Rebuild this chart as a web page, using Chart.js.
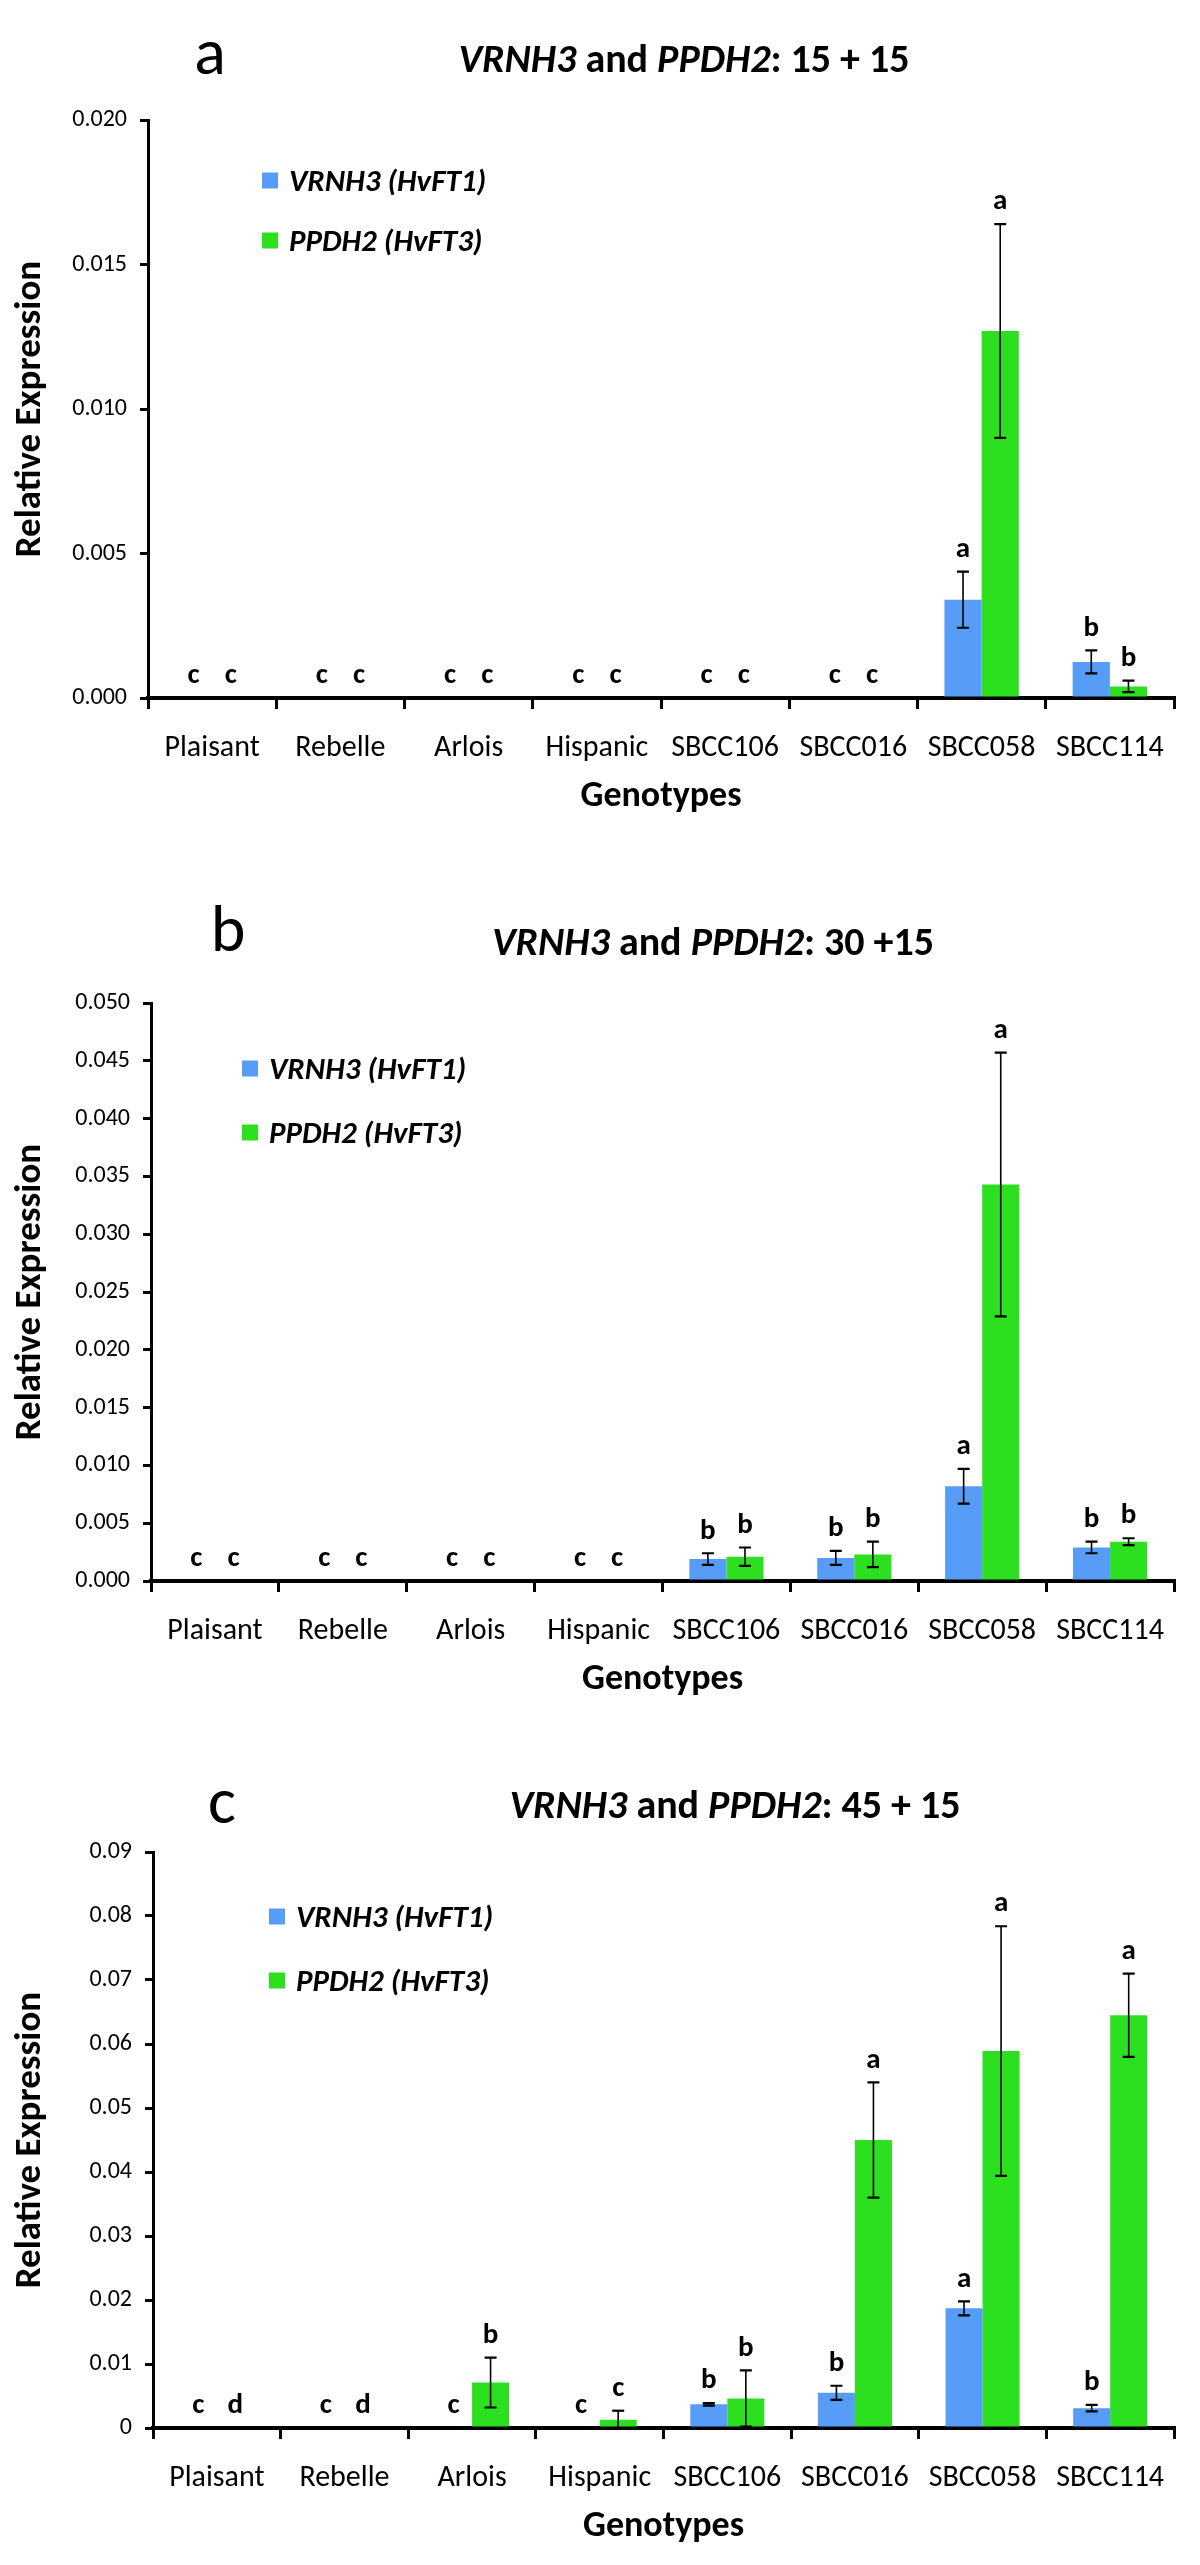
<!DOCTYPE html>
<html>
<head>
<meta charset="utf-8">
<title>VRNH3 and PPDH2 relative expression</title>
<script src="https://cdn.jsdelivr.net/npm/chart.js@4.4.1/dist/chart.umd.min.js"></script>
<style>
body { margin: 0; background: #fff; }
#page { position: relative; width: 1200px; height: 2565px; overflow: hidden; }
canvas { position: absolute; left: 0; }
.txt { position: absolute; white-space: nowrap; color: #000; transform: translate(-50%, -50%);
       font-family: Carlito, 'Liberation Sans Narrow', 'Open Sans', sans-serif; line-height: 1; }
.title { font-weight: bold; font-size: 40px; }
.letter { font-size: 66px; }
.leg { position: absolute; white-space: nowrap; transform: translateY(-50%); line-height: 1;
       font-family: Carlito, 'Liberation Sans Narrow', 'Open Sans', sans-serif;
       font-weight: bold; font-style: italic; font-size: 31px; }
.leg span.sw { display: inline-block; width: 16px; height: 16px; margin-right: 11px; vertical-align: middle; position: relative; top: -2px; }
</style>
</head>
<body>
<div id="page">
  <canvas id="chartA" width="1200" height="830" style="top:0px"></canvas>
  <canvas id="chartB" width="1200" height="883" style="top:830px"></canvas>
  <canvas id="chartC" width="1200" height="852" style="top:1713px"></canvas>

  <div class="txt letter" style="left:210px;top:52px">a</div>
  <div class="txt title" style="left:684px;top:59px"><i>VRNH3</i> and <i>PPDH2</i>: 15 + 15</div>

  <div class="txt letter" style="left:228px;top:929px">b</div>
  <div class="txt title" style="left:713px;top:942px"><i>VRNH3</i> and <i>PPDH2</i>: 30 +15</div>

  <div class="txt letter" style="left:222px;top:1801px">c</div>
  <div class="txt title" style="left:735px;top:1805px"><i>VRNH3</i> and <i>PPDH2</i>: 45 + 15</div>
</div>

<script>
"use strict"

const genotypes = ['Plaisant', 'Rebelle', 'Arlois', 'Hispanic', 'SBCC106', 'SBCC016', 'SBCC058', 'SBCC114'];
const seriesNames = ['VRNH3 (HvFT1)', 'PPDH2 (HvFT3)'];

/*** a: 15 + 15 ***/
const vrnh3A    = [0, 0, 0, 0, 0, 0, 0.0034, 0.00125];
const vrnh3ErrA = [0, 0, 0, 0, 0, 0, 0.00097, 0.0004];
const vrnh3LetA = ['c', 'c', 'c', 'c', 'c', 'c', 'a', 'b'];
const ppdh2A    = [0, 0, 0, 0, 0, 0, 0.0127, 0.0004];
const ppdh2ErrA = [0, 0, 0, 0, 0, 0, 0.0037, 0.0002];
const ppdh2LetA = ['c', 'c', 'c', 'c', 'c', 'c', 'a', 'b'];
const yValsA    = [0, 0.005, 0.01, 0.015, 0.02];
const yLabelsA  = ['0.000', '0.005', '0.010', '0.015', '0.020'];

/*** b: 30 + 15 ***/
const vrnh3B    = [0, 0, 0, 0, 0.0019, 0.0020, 0.0082, 0.0029];
const vrnh3ErrB = [0, 0, 0, 0, 0.0005, 0.0006, 0.0015, 0.0005];
const vrnh3LetB = ['c', 'c', 'c', 'c', 'b', 'b', 'a', 'b'];
const ppdh2B    = [0, 0, 0, 0, 0.0021, 0.0023, 0.0343, 0.0034];
const ppdh2ErrB = [0, 0, 0, 0, 0.0008, 0.0011, 0.0114, 0.0003];
const ppdh2LetB = ['c', 'c', 'c', 'c', 'b', 'b', 'a', 'b'];
const yValsB    = [0, 0.005, 0.01, 0.015, 0.02, 0.025, 0.03, 0.035, 0.04, 0.045, 0.05];
const yLabelsB  = ['0.000', '0.005', '0.010', '0.015', '0.020', '0.025', '0.030', '0.035', '0.040', '0.045', '0.050'];

/*** c: 45 + 15 ***/
const vrnh3C    = [0, 0, 0, 0, 0.0037, 0.0055, 0.0187, 0.0031];
const vrnh3ErrC = [0, 0, 0, 0, 0.0002, 0.0011, 0.0011, 0.0005];
const vrnh3LetC = ['c', 'c', 'c', 'c', 'b', 'b', 'a', 'b'];
const ppdh2C    = [0, 0, 0.0071, 0.0013, 0.0046, 0.045, 0.0589, 0.0645];
const ppdh2ErrC = [0, 0, 0.0039, 0.0014, 0.0044, 0.009, 0.0195, 0.0065];
const ppdh2LetC = ['d', 'd', 'b', 'c', 'b', 'a', 'a', 'a'];
const yValsC    = [0, 0.01, 0.02, 0.03, 0.04, 0.05, 0.06, 0.07, 0.08, 0.09];
const yLabelsC  = ['0', '0.01', '0.02', '0.03', '0.04', '0.05', '0.06', '0.07', '0.08', '0.09'];

const BLUE = '#579cf7';
const GREEN = '#2ce01f';
const NARROW = "Carlito, 'Liberation Sans Narrow', 'Open Sans', sans-serif";

// error bars + significance letters, placed with the y scale
let errorBars = {
    id: 'errorBars',
    afterDatasetsDraw: function (chart) {
        const ctx = chart.ctx;
        const y = chart.scales.y;
        ctx.save();
        chart.data.datasets.forEach(function (ds, i) {
            chart.getDatasetMeta(i).data.forEach(function (bar, j) {
                let v = ds.data[j];
                let e = ds.errors[j];
                let top = y.getPixelForValue(v + e);
                if (e > 0) {
                    let low = Math.max(v - e, 0);
                    let bot = y.getPixelForValue(low);
                    ctx.strokeStyle = '#000';
                    ctx.lineWidth = 1.6;
                    ctx.beginPath();
                    ctx.moveTo(bar.x, top);
                    ctx.lineTo(bar.x, bot);
                    ctx.stroke();
                    ctx.lineWidth = 2.2;
                    ctx.beginPath();
                    ctx.moveTo(bar.x - 6, top);
                    ctx.lineTo(bar.x + 6, top);
                    if (low > 0) {
                        ctx.moveTo(bar.x - 6, bot);
                        ctx.lineTo(bar.x + 6, bot);
                    }
                    ctx.stroke();
                }
                ctx.fillStyle = '#000';
                ctx.font = 'bold 29px ' + NARROW;
                ctx.textAlign = 'center';
                ctx.textBaseline = 'middle';
                ctx.fillText(ds.letters[j], bar.x, top - 22);
            });
        });
        ctx.restore();
    }
};

function makeChart(id, p) {
    const ctx = document.getElementById(id).getContext('2d');
    return new Chart(ctx, {
        type: 'bar',
        data: {
            labels: genotypes,
            datasets: [
                { label: seriesNames[0], data: p.v, errors: p.ve, letters: p.vl, backgroundColor: BLUE,
                  borderWidth: 0, categoryPercentage: 0.58, barPercentage: 1 },
                { label: seriesNames[1], data: p.g, errors: p.ge, letters: p.gl, backgroundColor: GREEN,
                  borderWidth: 0, categoryPercentage: 0.58, barPercentage: 1 }
            ]
        },
        options: {
            responsive: false,
            animation: false,
            devicePixelRatio: 1,
            layout: { padding: { top: p.top, right: 26, bottom: p.bottom, left: 0 } },
            plugins: { legend: { display: false }, tooltip: { enabled: false } },
            scales: {
                x: {
                    z: 1,
                    afterFit: function (scale) { scale.height = 132; },
                    border: { display: true, color: '#000', width: 4 },
                    grid: { offset: true, drawOnChartArea: false, drawTicks: true, tickLength: 11, color: '#000', lineWidth: 3 },
                    ticks: { color: '#000', padding: 21, maxRotation: 0, autoSkip: false,
                             font: { family: NARROW, size: 30 } },
                    title: { display: true, text: 'Genotypes', color: '#000', padding: { top: 0, bottom: 11 },
                             font: { family: NARROW, size: 36, weight: 'bold' } }
                },
                y: {
                    min: 0,
                    max: p.yVals[p.yVals.length - 1],
                    afterFit: function (scale) { scale.width = p.left; },
                    afterBuildTicks: function (scale) { scale.ticks = p.yVals.map(function (v) { return { value: v }; }); },
                    border: { display: true, color: '#000', width: 3 },
                    grid: { drawOnChartArea: false, drawTicks: true, tickLength: 8, color: '#000', lineWidth: 3 },
                    ticks: {
                        color: '#000', padding: 13,
                        font: { family: NARROW, size: 24 },
                        callback: function (value, index) { return p.yLabels[index]; }
                    },
                    title: { display: true, text: 'Relative Expression', color: '#000', padding: { top: 9, bottom: 0 },
                             font: { family: NARROW, size: 37, weight: 'bold' } }
                }
            }
        },
        plugins: [errorBars]
    });
}

function addLegend(left, y1, y2) {
    const page = document.getElementById('page');
    [[BLUE, y1], [GREEN, y2]].forEach(function (item, i) {
        let d = document.createElement('div');
        d.className = 'leg';
        d.style.left = left + 'px';
        d.style.top = item[1] + 'px';
        d.innerHTML = '<span class="sw" style="background:' + item[0] + '"></span><span>' + seriesNames[i] + '</span>';
        page.appendChild(d);
    });
}

makeChart('chartA', { v: vrnh3A, ve: vrnh3ErrA, vl: vrnh3LetA, g: ppdh2A, ge: ppdh2ErrA, gl: ppdh2LetA,
                      yVals: yValsA, yLabels: yLabelsA, top: 120, bottom: 0, left: 148 });
makeChart('chartB', { v: vrnh3B, ve: vrnh3ErrB, vl: vrnh3LetB, g: ppdh2B, ge: ppdh2ErrB, gl: ppdh2LetB,
                      yVals: yValsB, yLabels: yLabelsB, top: 173, bottom: 0, left: 151 });
makeChart('chartC', { v: vrnh3C, ve: vrnh3ErrC, vl: vrnh3LetC, g: ppdh2C, ge: ppdh2ErrC, gl: ppdh2LetC,
                      yVals: yValsC, yLabels: yLabelsC, top: 139, bottom: 5, left: 153 });

addLegend(262, 180, 240);
addLegend(242, 1068, 1132);
addLegend(269, 1916, 1980);
</script>
</body>
</html>
